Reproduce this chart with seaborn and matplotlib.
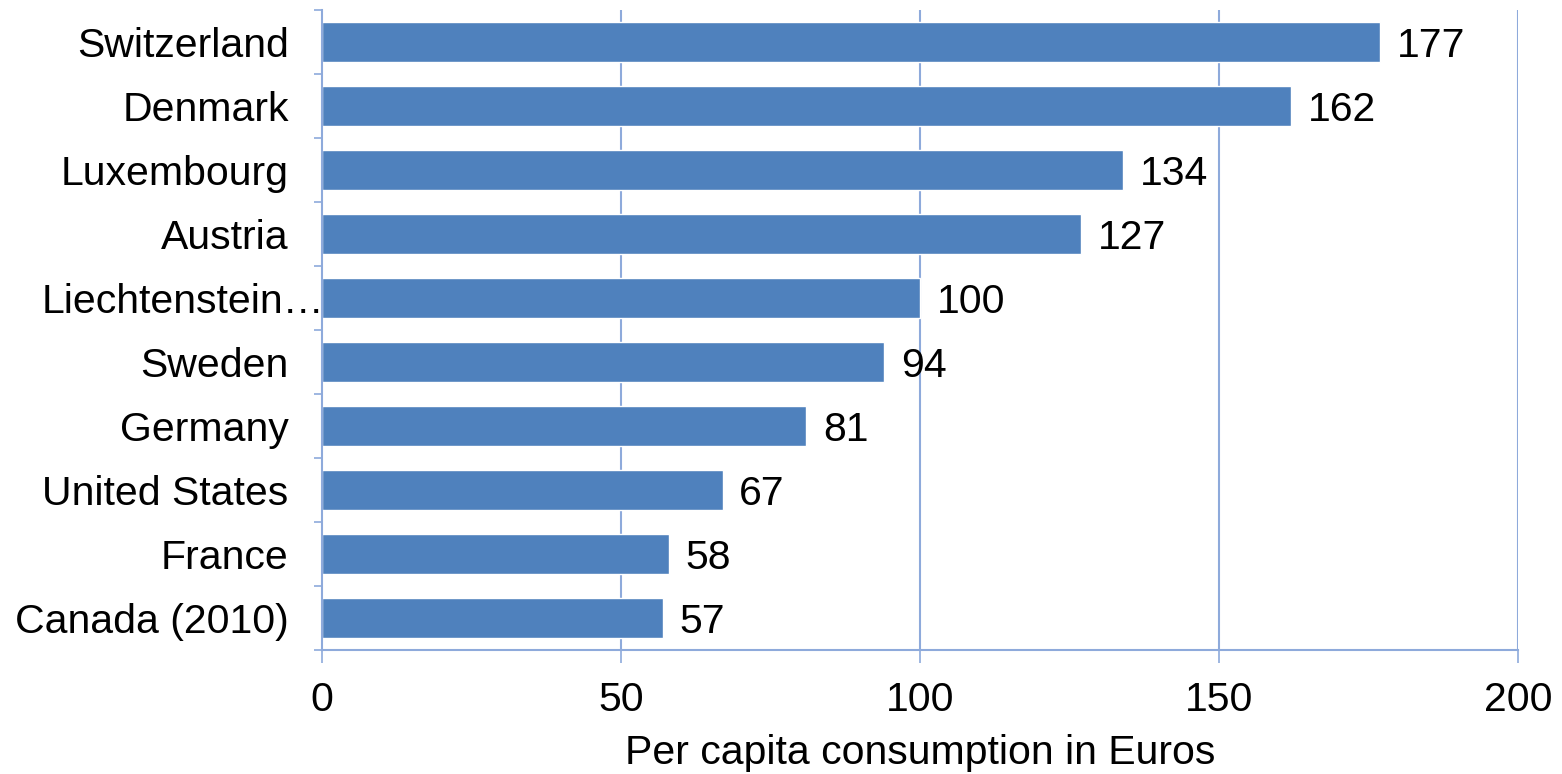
import matplotlib
matplotlib.use("Agg")
import matplotlib.pyplot as plt
import matplotlib.transforms as mtransforms
from matplotlib.ticker import FixedLocator
import seaborn as sns
import pandas as pd

countries = ["Switzerland", "Denmark", "Luxembourg", "Austria", "Liechtenstein…",
             "Sweden", "Germany", "United States", "France", "Canada (2010)"]
values = [177, 162, 134, 127, 100, 94, 81, 67, 58, 57]
x_ticks = [0, 50, 100, 150, 200]
x_label = "Per capita consumption in Euros"

bar_color = "#4F81BD"
axis_color = "#8EAADB"
fs = 29.5

sns.set_theme(style="white")
plt.rcParams["font.family"] = ["Liberation Sans", "DejaVu Sans"]
plt.rcParams["text.color"] = "black"
plt.rcParams["xtick.labelcolor"] = "black"
plt.rcParams["ytick.labelcolor"] = "black"
plt.rcParams["axes.labelcolor"] = "black"

df = pd.DataFrame({"country": countries, "value": values})

fig = plt.figure(figsize=(15.62, 7.74), dpi=100)
ax = fig.add_axes([322 / 1562, 1 - 650 / 774, (1518 - 322) / 1562, (650 - 10) / 774])

sns.barplot(data=df, x="value", y="country", orient="h", color=bar_color,
            saturation=1, width=0.62, ax=ax)

ax.set_xlim(0, 200)
ax.set_ylim(len(countries) - 0.5, -0.5)
ax.set_xticks(x_ticks)
ax.set_xticklabels([str(t) for t in x_ticks])
ax.set_xlabel(x_label, fontsize=fs, labelpad=11, color="black")
ax.set_ylabel("")

ax.grid(False)
for t in x_ticks[1:]:
    ax.axvline(t, color=axis_color, lw=1.5, zorder=0)

for s in ["top", "right"]:
    ax.spines[s].set_visible(False)
for s in ["left", "bottom"]:
    ax.spines[s].set_color(axis_color)
    ax.spines[s].set_linewidth(1.5)

ax.tick_params(axis="x", which="major", direction="out", length=9, width=1.2,
               color=axis_color, labelsize=fs, pad=13, bottom=True, labelcolor="black")
ax.tick_params(axis="y", which="major", length=0, labelsize=fs, pad=24, left=True,
               labelcolor="black")
ax.yaxis.set_minor_locator(FixedLocator([i - 0.5 for i in range(len(countries) + 1)]))
ax.tick_params(axis="y", which="minor", direction="out", length=6, width=1.2,
               color=axis_color, left=True)

for c in ax.containers:
    texts = ax.bar_label(c, labels=[str(v) for v in values], padding=12, fontsize=fs,
                         color="black")
    for t in texts:
        t.xyann = (12, -3)

# Liechtenstein label overflows toward the axis in the reference
for lab in ax.get_yticklabels():
    if lab.get_text().startswith("Liechtenstein"):
        lab.set_transform(lab.get_transform() +
                          mtransforms.ScaledTranslation(36 / 100, 0, fig.dpi_scale_trans))

fig.savefig("out.png", dpi=100, facecolor="white")
